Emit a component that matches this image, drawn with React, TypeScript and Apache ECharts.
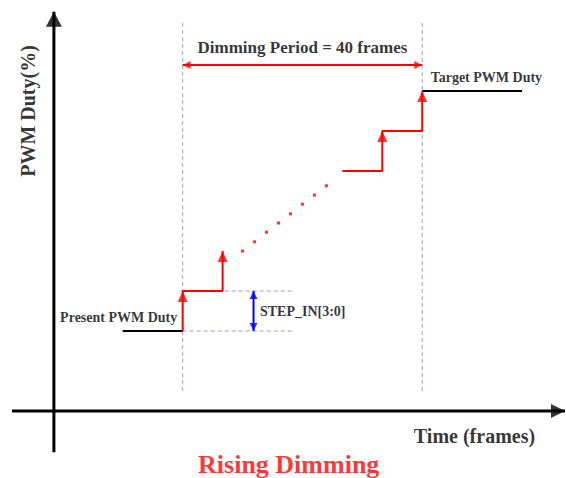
import React, { useEffect, useRef } from "react";
import * as echarts from "echarts";

// ---- data (x in frames, dimming starts at frame 0; y in duty steps) ----
const PERIOD = [0, 40];
const PRESENT_DUTY = 2;
const TARGET_DUTY = 8;
const presentX = [-10, 0];
const targetX = [40, 56.67];
const lowerStairX = [0, 0, 6.67, 6.67];
const lowerStairY = [2, 3, 3, 4];
const upperStairX = [26.67, 33.33, 33.33, 40, 40];
const upperStairY = [6, 6, 7, 7, 8];
const riserTopX = [0, 6.67, 33.33, 40];
const riserTopY = [3, 4, 7, 8];
const dotsX = [10, 12, 14, 16, 18, 20, 22, 24];
const dotsY = [4.0, 4.23, 4.47, 4.7, 4.93, 5.17, 5.4, 5.63];
const periodArrowY = 8.65;
const guideY = [0.5, 9.72];
const stepRefY = [2, 3];
const stepRefX = [0, 18.67];
const stepArrowX = 11.83;
const xAxisRange = [-28.5, 63.83];
const yAxisX = -21.5;
const yAxisRange = [-1.03, 9.98];

const labels = [
  { text: "PWM Duty(%)", x: -25.8, y: 7.5, size: 20, color: "#000", pos: "inside", rotate: 90 },
  { text: "Dimming Period = 40 frames", x: 20, y: 9.1, size: 17, color: "#000", pos: "inside", rotate: 0 },
  { text: "Target PWM Duty", x: 41.4, y: 8.35, size: 14, color: "#000", pos: "right", rotate: 0 },
  { text: "Present PWM Duty", x: -0.9, y: 2.35, size: 14, color: "#000", pos: "left", rotate: 0 },
  { text: "STEP_IN[3:0]", x: 12.9, y: 2.5, size: 14, color: "#000", pos: "right", rotate: 0 },
  { text: "Time (frames)", x: 38.6, y: -0.63, size: 20, color: "#000", pos: "right", rotate: 0 },
  { text: "Rising Dimming", x: 17.7, y: -1.33, size: 26, color: "#ff0000", pos: "inside", rotate: 0 },
];

const FONT = "'Liberation Serif', 'Times New Roman', serif";
const RED = "#ff0000";
const BLUE = "#0000ff";
const GUIDE = "#9a9aee";

const zip = (xs: number[], ys: number[]) => xs.map((x, i) => [x, ys[i]]);

function seg(points: number[][], color: string, width: number, dashed = false) {
  return {
    type: "line",
    data: points,
    showSymbol: false,
    symbol: "none",
    silent: true,
    clip: false,
    lineStyle: { color, width, type: dashed ? [4, 3] : "solid" },
    z: dashed ? 1 : 3,
  };
}

// arrow head with its tip on the given point
function head(x: number, y: number, dir: string, w: number, h: number, color: string) {
  const rot = { up: 0, down: 180, right: -90, left: 90 }[dir];
  const off = {
    up: [0, h / 2],
    down: [0, -h / 2],
    right: [-h / 2, 0],
    left: [h / 2, 0],
  }[dir];
  return {
    value: [x, y],
    symbol: "triangle",
    symbolSize: [w, h],
    symbolRotate: rot,
    symbolOffset: off,
    itemStyle: { color },
  };
}

export default function App() {
  const ref = useRef<HTMLDivElement>(null);
  useEffect(() => {
    if (!ref.current) return;
    const chart = echarts.init(ref.current, null, { renderer: "svg" });

    const series: any[] = [];
    // axes
    series.push(seg([[xAxisRange[0], 0], [xAxisRange[1], 0]], "#000", 3));
    series.push(seg([[yAxisX, yAxisRange[0]], [yAxisX, yAxisRange[1]]], "#000", 3));
    // guides
    PERIOD.forEach((px) => series.push(seg([[px, guideY[0]], [px, guideY[1]]], GUIDE, 1, true)));
    stepRefY.forEach((y) => series.push(seg([[stepRefX[0], y], [stepRefX[1], y]], GUIDE, 1, true)));
    // present / target
    series.push(seg(presentX.map((x) => [x, PRESENT_DUTY]), "#000", 2));
    series.push(seg(targetX.map((x) => [x, TARGET_DUTY]), "#000", 2));
    // stairs
    series.push(seg(zip(lowerStairX, lowerStairY), RED, 2));
    series.push(seg(zip(upperStairX, upperStairY), RED, 2));
    // period arrow
    series.push(seg(PERIOD.map((x) => [x, periodArrowY]), RED, 2));
    // step arrow
    series.push(seg(stepRefY.map((y) => [stepArrowX, y]), BLUE, 2));

    const heads = [
      ...zip(riserTopX, riserTopY).map(([x, y]) => head(x, y, "up", 10, 11, RED)),
      head(PERIOD[0], periodArrowY, "left", 8, 8, RED),
      head(PERIOD[1], periodArrowY, "right", 8, 8, RED),
      head(stepArrowX, stepRefY[1], "up", 8, 8, BLUE),
      head(stepArrowX, stepRefY[0], "down", 8, 8, BLUE),
      head(xAxisRange[1], 0, "right", 14, 14, "#000"),
      head(yAxisX, yAxisRange[1], "up", 16, 15, "#000"),
    ];
    series.push({
      type: "scatter",
      data: heads,
      silent: true,
      clip: false,
      z: 5,
    });
    series.push({
      type: "scatter",
      data: zip(dotsX, dotsY),
      symbol: "rect",
      symbolSize: 3,
      itemStyle: { color: RED },
      silent: true,
      z: 5,
    });
    series.push({
      type: "scatter",
      silent: true,
      clip: false,
      symbolSize: 0,
      z: 6,
      data: labels.map((l) => ({
        value: [l.x, l.y],
        label: {
          show: true,
          formatter: l.text,
          position: l.pos,
          distance: 0,
          rotate: l.rotate,
          color: l.color,
          fontSize: l.size,
          fontWeight: "bold",
          fontFamily: FONT,
        },
      })),
    });

    chart.setOption({
      animation: false,
      backgroundColor: "#ffffff",
      grid: { left: 3, top: 1, width: 564, height: 470 },
      xAxis: { type: "value", min: -30, max: 64, show: false },
      yAxis: { type: "value", min: -1.5, max: 10.25, show: false },
      series,
    });
    return () => chart.dispose();
  }, []);
  return <div ref={ref} style={{ width: 566, height: 478, position: "absolute", left: 0, top: 0 }} />;
}
